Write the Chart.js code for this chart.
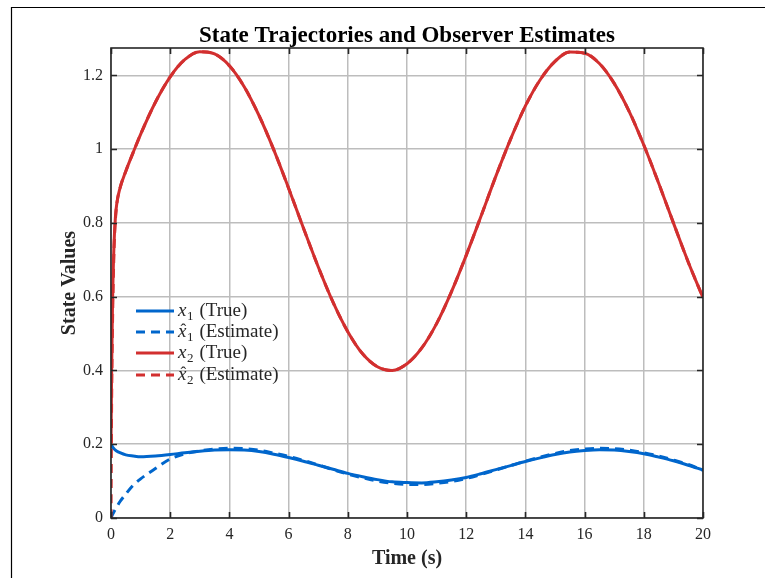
<!DOCTYPE html>
<html>
<head>
<meta charset="utf-8">
<script src="https://cdn.jsdelivr.net/npm/chart.js@4.4.1/dist/chart.umd.min.js"></script>
<style>
  html, body { margin: 0; padding: 0; background: #ffffff; }
  #wrap { position: relative; width: 765px; height: 578px; }
</style>
</head>
<body>
<div id="wrap"><canvas id="stateChart" width="765" height="578"></canvas></div>
<script>
// time samples (s)
const timeS = [0, 0.02, 0.05, 0.1, 0.15, 0.2, 0.3, 0.5, 0.75, 1,
  1.5, 2, 2.5, 3, 3.5, 4, 4.5, 5, 5.5, 6, 6.5, 7, 7.5, 8, 8.5, 9, 9.5, 10,
  10.5, 11, 11.5, 12, 12.5, 13, 13.5, 14, 14.5, 15, 15.5, 16, 16.5, 17,
  17.5, 18, 18.5, 19, 19.5, 20];

// x1 true / estimate
const x1True = [0.200, 0.197, 0.193, 0.188, 0.184, 0.181, 0.177, 0.171, 0.168, 0.166,
  0.168, 0.172, 0.177, 0.181, 0.184, 0.185, 0.184, 0.180, 0.173, 0.164, 0.154, 0.143,
  0.132, 0.121, 0.112, 0.104, 0.098, 0.096, 0.095, 0.098, 0.103, 0.110, 0.120, 0.131,
  0.142, 0.153, 0.163, 0.172, 0.179, 0.183, 0.185, 0.184, 0.180, 0.174, 0.165, 0.155,
  0.143, 0.130];
const x1Est = [0.000, 0.004, 0.009, 0.017, 0.024, 0.031, 0.044, 0.065, 0.089, 0.106,
  0.134, 0.160, 0.174, 0.182, 0.187, 0.189, 0.188, 0.184, 0.176, 0.167, 0.156, 0.144,
  0.131, 0.119, 0.109, 0.100, 0.094, 0.091, 0.091, 0.094, 0.099, 0.107, 0.118, 0.130,
  0.142, 0.154, 0.165, 0.175, 0.183, 0.187, 0.189, 0.188, 0.184, 0.177, 0.168, 0.157,
  0.145, 0.129];

// x2 true / estimate
const x2True = [0.200, 0.387, 0.573, 0.738, 0.816, 0.855, 0.893, 0.940, 0.991, 1.040,
  1.127, 1.196, 1.243, 1.264, 1.258, 1.226, 1.169, 1.091, 0.998, 0.894, 0.786, 0.681,
  0.585, 0.505, 0.445, 0.410, 0.400, 0.418, 0.461, 0.527, 0.613, 0.712, 0.818, 0.926,
  1.027, 1.117, 1.188, 1.238, 1.263, 1.260, 1.232, 1.178, 1.103, 1.011, 0.908, 0.800,
  0.694, 0.597];
const x2Est = [0.000, 0.300, 0.520, 0.720, 0.810, 0.853, 0.893, 0.940, 0.991, 1.040,
  1.127, 1.196, 1.243, 1.264, 1.258, 1.226, 1.169, 1.091, 0.998, 0.894, 0.786, 0.681,
  0.585, 0.505, 0.445, 0.410, 0.400, 0.418, 0.461, 0.527, 0.613, 0.712, 0.818, 0.926,
  1.027, 1.117, 1.188, 1.238, 1.263, 1.260, 1.232, 1.178, 1.103, 1.011, 0.908, 0.800,
  0.694, 0.597];

// axis ticks
const xTickValues = [0, 2, 4, 6, 8, 10, 12, 14, 16, 18, 20];
const yTickValues = [0, 0.2, 0.4, 0.6, 0.8, 1, 1.2];
const yTickLabels = ["0", "0.2", "0.4", "0.6", "0.8", "1", "1.2"];

// legend entries
const legendSub = ["1", "1", "2", "2"];
const legendHat = [false, true, false, true];
const legendText = ["(True)", "(Estimate)", "(True)", "(Estimate)"];

const BLUE = "#0066cc";
const RED = "#d22f2f";
const AXIS = "#262626";
const SERIF = "'Liberation Serif', 'DejaVu Serif', serif";

function toPoints(values) {
  return timeS.map((t, i) => ({ x: t, y: values[i] }));
}

// bordures, graduations internes, titres et légende façon MATLAB
const matlabDecor = {
  id: "matlabDecor",
  beforeDraw(chart) {
    const ctx = chart.ctx;
    ctx.save();
    ctx.fillStyle = "#ffffff";
    ctx.fillRect(0, 0, chart.width, chart.height);
    // figure frame (top + left)
    ctx.strokeStyle = "#000000";
    ctx.lineWidth = 1.2;
    ctx.beginPath();
    ctx.moveTo(11.5, chart.height);
    ctx.lineTo(11.5, 7.5);
    ctx.lineTo(chart.width, 7.5);
    ctx.stroke();
    ctx.restore();
  },
  afterDraw(chart) {
    const ctx = chart.ctx;
    const a = chart.chartArea;
    const xs = chart.scales.x;
    const ys = chart.scales.y;
    ctx.save();

    // axes box
    ctx.strokeStyle = AXIS;
    ctx.lineWidth = 1.6;
    ctx.strokeRect(a.left, a.top, a.right - a.left, a.bottom - a.top);

    // inner ticks
    ctx.beginPath();
    xTickValues.forEach((v) => {
      const px = Math.round(xs.getPixelForValue(v)) + 0.5;
      ctx.moveTo(px, a.bottom);
      ctx.lineTo(px, a.bottom - 6);
      ctx.moveTo(px, a.top);
      ctx.lineTo(px, a.top + 6);
    });
    yTickValues.forEach((v) => {
      const py = Math.round(ys.getPixelForValue(v)) + 0.5;
      ctx.moveTo(a.left, py);
      ctx.lineTo(a.left + 6, py);
      ctx.moveTo(a.right, py);
      ctx.lineTo(a.right - 6, py);
    });
    ctx.stroke();

    // title
    ctx.fillStyle = "#000000";
    ctx.textAlign = "center";
    ctx.textBaseline = "alphabetic";
    ctx.font = "bold 23px " + SERIF;
    ctx.fillText("State Trajectories and Observer Estimates", (a.left + a.right) / 2, 42);

    // axis labels
    ctx.fillStyle = AXIS;
    ctx.font = "bold 20px " + SERIF;
    ctx.fillText("Time (s)", (a.left + a.right) / 2, 564);
    ctx.save();
    ctx.translate(75, (a.top + a.bottom) / 2);
    ctx.rotate(-Math.PI / 2);
    ctx.fillText("State Values", 0, 0);
    ctx.restore();

    // legend
    const colors = [BLUE, BLUE, RED, RED];
    const dashed = [false, true, false, true];
    const rowY = [311, 332, 353, 375];
    for (let i = 0; i < 4; i++) {
      const y = rowY[i];
      ctx.strokeStyle = colors[i];
      ctx.lineWidth = 3;
      ctx.setLineDash(dashed[i] ? [9, 6] : []);
      ctx.beginPath();
      ctx.moveTo(136, y);
      ctx.lineTo(174, y);
      ctx.stroke();
      ctx.setLineDash([]);

      ctx.fillStyle = AXIS;
      ctx.textAlign = "left";
      ctx.textBaseline = "alphabetic";
      let tx = 178;
      const base = y + 5;
      ctx.font = "italic 19px " + SERIF;
      ctx.fillText("x", tx, base);
      const xw = ctx.measureText("x").width;
      if (legendHat[i]) {
        ctx.font = "17px " + SERIF;
        ctx.textAlign = "center";
        ctx.fillText("\u02C6", tx + xw / 2 + 1, base - 2);
        ctx.textAlign = "left";
      }
      tx += xw + 0.5;
      ctx.font = "13px " + SERIF;
      ctx.fillText(legendSub[i], tx, base + 4);
      tx += ctx.measureText(legendSub[i]).width + 6;
      ctx.font = "19px " + SERIF;
      ctx.fillText(legendText[i], tx, base);
    }
    ctx.restore();
  },
};

const ctx = document.getElementById("stateChart");

new Chart(ctx, {
  type: "line",
  data: {
    datasets: [
      {
        label: "x1 (True)",
        data: toPoints(x1True),
        borderColor: BLUE,
        borderWidth: 3,
        order: 4,
      },
      {
        label: "x1 hat (Estimate)",
        data: toPoints(x1Est),
        borderColor: BLUE,
        borderWidth: 3,
        borderDash: [9, 6],
        order: 3,
      },
      {
        label: "x2 (True)",
        data: toPoints(x2True),
        borderColor: RED,
        borderWidth: 3,
        order: 2,
      },
      {
        label: "x2 hat (Estimate)",
        data: toPoints(x2Est),
        borderColor: RED,
        borderWidth: 3,
        borderDash: [9, 6],
        order: 1,
      },
    ],
  },
  options: {
    responsive: false,
    animation: false,
    devicePixelRatio: 1,
    layout: { padding: { top: 48, right: 62, left: 0, bottom: 0 } },
    elements: {
      point: { radius: 0, hoverRadius: 0 },
      line: { cubicInterpolationMode: "monotone", fill: false },
    },
    plugins: {
      legend: { display: false },
      title: { display: false },
      tooltip: { enabled: false },
    },
    scales: {
      x: {
        type: "linear",
        min: 0,
        max: 20,
        afterFit(scale) { scale.height = 60; },
        afterBuildTicks(scale) { scale.ticks = xTickValues.map((v) => ({ value: v })); },
        ticks: {
          padding: 7,
          color: AXIS,
          font: { family: SERIF, size: 16 },
          maxRotation: 0,
          callback: (v) => String(v),
        },
        grid: { color: "#bdbdbd", lineWidth: 1.5, drawTicks: false },
        border: { display: false },
      },
      y: {
        type: "linear",
        min: 0,
        max: 1.274,
        afterFit(scale) { scale.width = 111; },
        afterBuildTicks(scale) { scale.ticks = yTickValues.map((v) => ({ value: v })); },
        ticks: {
          padding: 8,
          color: AXIS,
          font: { family: SERIF, size: 16 },
          callback: (v, i) => yTickLabels[i],
        },
        grid: { color: "#bdbdbd", lineWidth: 1.5, drawTicks: false },
        border: { display: false },
      },
    },
  },
  plugins: [matlabDecor],
});
</script>
</body>
</html>
